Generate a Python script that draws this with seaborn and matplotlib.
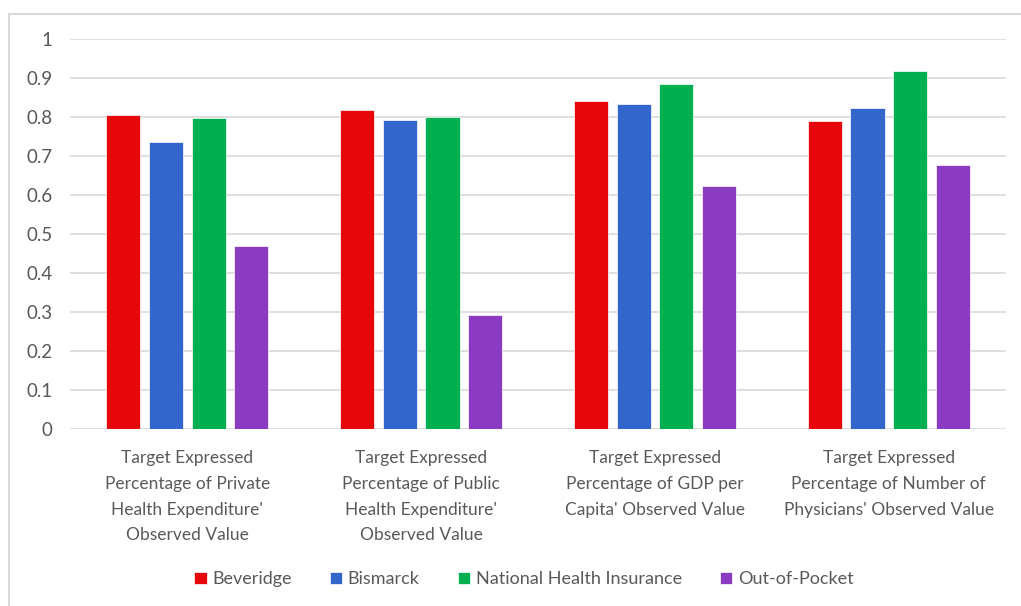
import pandas as pd
import seaborn as sns
import matplotlib.pyplot as plt
from matplotlib.patches import Rectangle

# Chart data.
categories = [
    "Target Expressed\nPercentage of Private\nHealth Expenditure'\nObserved Value",
    "Target Expressed\nPercentage of Public\nHealth Expenditure'\nObserved Value",
    "Target Expressed\nPercentage of GDP per\nCapita' Observed Value",
    "Target Expressed\nPercentage of Number of\nPhysicians' Observed Value",
]
systems = ["Beveridge", "Bismarck", "National Health Insurance", "Out-of-Pocket"]
beveridge = [0.806, 0.818, 0.841, 0.790]
bismarck = [0.737, 0.792, 0.835, 0.823]
nhi = [0.798, 0.801, 0.885, 0.918]
out_of_pocket = [0.471, 0.292, 0.623, 0.677]
colors = ["#E6070A", "#3366CC", "#00B050", "#8B3BC2"]
yticks = [0, 0.1, 0.2, 0.3, 0.4, 0.5, 0.6, 0.7, 0.8, 0.9, 1]
ytick_labels = ["0", "0.1", "0.2", "0.3", "0.4", "0.5", "0.6", "0.7", "0.8", "0.9", "1"]

# Long form table for seaborn.
rows = []
for name, vals in zip(systems, [beveridge, bismarck, nhi, out_of_pocket]):
    for cat, v in zip(categories, vals):
        rows.append({"category": cat, "system": name, "value": v})
df = pd.DataFrame(rows)

sns.set_style("white")
plt.rcParams["font.family"] = ["Lato", "DejaVu Sans"]
text_color = "#595959"
grid_color = "#D9D9D9"

fig = plt.figure(figsize=(10.21, 6.06), dpi=100)
ax = fig.add_axes([0.069, 0.2916, 0.916, 0.6436])

sns.barplot(data=df, x="category", y="value", hue="system",
            order=categories, hue_order=systems, palette=colors,
            saturation=1, width=0.73, gap=0.2, edgecolor="white",
            linewidth=0.5, ax=ax, legend=True)

ax.set_ylim(0, 1)
ax.set_xlim(-0.5, 3.5)
ax.set_yticks(yticks)
ax.set_yticklabels(ytick_labels)
ax.yaxis.grid(True, color=grid_color, linewidth=1.2)
ax.set_axisbelow(True)
for s in ax.spines.values():
    s.set_visible(False)
ax.set_xlabel("")
ax.set_ylabel("")
ax.tick_params(axis="y", length=0, pad=13, labelsize=13.5, labelcolor=text_color)
ax.tick_params(axis="x", length=0, pad=15, labelsize=12.5, labelcolor=text_color)
for lab in ax.get_xticklabels():
    lab.set_linespacing(1.75)

handles, labels = ax.get_legend_handles_labels()
ax.legend(handles, labels, loc="center", bbox_to_anchor=(0.513, 0.044),
          bbox_transform=fig.transFigure, ncol=4, frameon=False,
          handlelength=0.7, handleheight=0.7, handletextpad=0.3,
          columnspacing=2.1, fontsize=13, labelcolor=text_color)

# Light chart border, cropped on the right and bottom as in the reference.
fig.patches.append(Rectangle((9 / 1021, -0.1), 1.2, 1 - 14 / 606 + 0.1,
                             transform=fig.transFigure, fill=False,
                             edgecolor=grid_color, linewidth=1.5))

fig.savefig("out.png", dpi=100)
